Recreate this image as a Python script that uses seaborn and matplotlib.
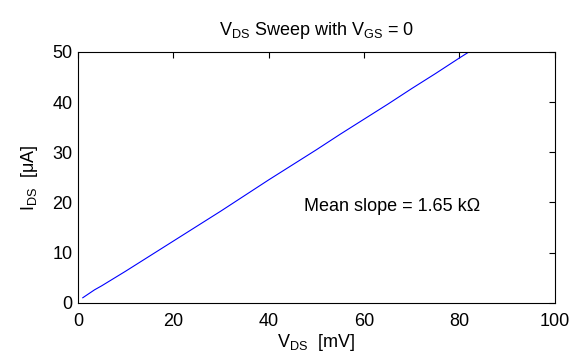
import numpy as np
import pandas as pd
import matplotlib
matplotlib.use("Agg")
import matplotlib.pyplot as plt
import seaborn as sns

# Sweep data (V_DS in mV, I_DS in uA)
vds = [1, 3.5, 5, 10, 15, 20, 25, 30, 35, 40, 45, 50, 55, 60, 65, 70, 75, 80, 85]
ids = [1.0, 2.6, 3.4, 6.3, 9.3, 12.3, 15.3, 18.3, 21.4, 24.5, 27.5, 30.5, 33.6, 36.6, 39.6, 42.7, 45.7, 48.8, 51.8]

x_ticks = [0, 20, 40, 60, 80, 100]
y_ticks = [0, 10, 20, 30, 40, 50]

sns.set_style("white")
plt.rcParams['font.family'] = ['Liberation Sans', 'DejaVu Sans']
plt.rcParams['mathtext.default'] = 'regular'
plt.rcParams['text.color'] = 'black'
plt.rcParams['axes.labelcolor'] = 'black'

fs = 13

df = pd.DataFrame({'vds': vds, 'ids': ids})

fig = plt.figure(figsize=(5.81, 3.58), dpi=100)
ax = fig.add_axes([0.134, 0.154, 0.821, 0.701])

sns.lineplot(data=df, x='vds', y='ids', color='#0000ff', linewidth=0.8, ax=ax)

ax.set_xlim(0, 100)
ax.set_ylim(0, 50)
ax.set_xticks(x_ticks)
ax.set_yticks(y_ticks)
ax.tick_params(direction='in', length=4, width=0.8, top=True, right=True,
               labelsize=fs, colors='black')
ax.tick_params(axis='x', pad=7)
ax.tick_params(axis='y', pad=4)
for s in ax.spines.values():
    s.set_color('black')
    s.set_linewidth(0.8)

ax.set_xlabel('$V_{DS}$  [mV]', fontsize=fs, labelpad=2)
ax.set_ylabel('$I_{DS}$  [\u03bcA]', fontsize=fs, labelpad=9)
ax.set_title('$V_{DS}$ Sweep with $V_{GS}$ = 0', fontsize=fs, pad=12)

ax.text(47.5, 19.2, 'Mean slope = 1.65 k\u03a9', fontsize=fs, va='center', ha='left')

fig.savefig('out.png', dpi=100)
